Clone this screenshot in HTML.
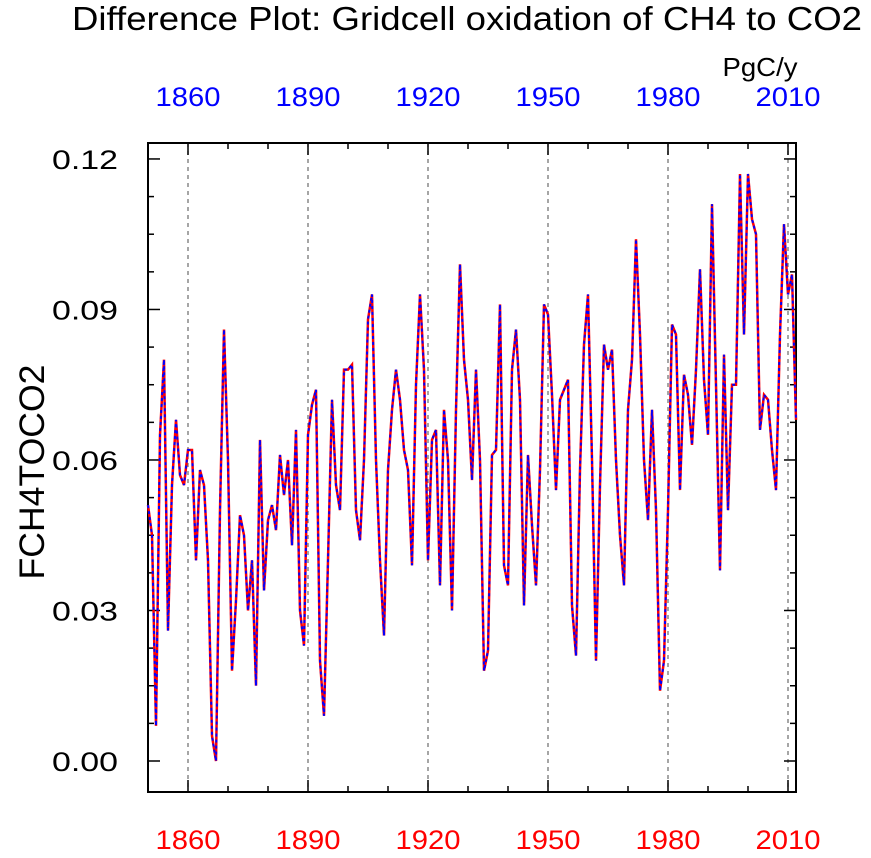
<!DOCTYPE html>
<html><head><meta charset="utf-8"><style>
body{margin:0;background:#fff}
svg text{font-family:"Liberation Sans",Arial,sans-serif}
</style></head><body>
<svg id="chart" width="871" height="853" xmlns="http://www.w3.org/2000/svg">
<text x="467" y="30" font-size="33" text-anchor="middle" textLength="790" lengthAdjust="spacingAndGlyphs">Difference Plot: Gridcell oxidation of CH4 to CO2</text>
<text x="760" y="76" font-size="26" text-anchor="middle" textLength="75" lengthAdjust="spacingAndGlyphs">PgC/y</text>
<text transform="translate(44,472) rotate(-90)" font-size="35" text-anchor="middle" textLength="215" lengthAdjust="spacingAndGlyphs">FCH4TOCO2</text>
<g id="grid"></g><g id="axes"></g><g id="series"></g>
</svg>
<script>
const years=[];for(let y=1850;y<=2012;y++)years.push(y);
const seriesA=[0.051,0.045,0.007,0.065,0.080,0.026,0.055,0.068,0.057,0.055,
0.062,0.062,0.040,0.058,0.055,0.040,0.005,0.000,0.050,0.086,
0.060,0.018,0.032,0.049,0.045,0.030,0.040,0.015,0.064,0.034,
0.048,0.051,0.046,0.061,0.053,0.060,0.043,0.066,0.030,0.023,
0.065,0.071,0.074,0.020,0.009,0.040,0.072,0.055,0.050,0.078,
0.078,0.079,0.050,0.044,0.060,0.088,0.093,0.060,0.040,0.025,
0.058,0.070,0.078,0.072,0.062,0.058,0.039,0.075,0.093,0.078,
0.040,0.064,0.066,0.035,0.070,0.060,0.030,0.070,0.099,0.080,
0.072,0.056,0.078,0.060,0.018,0.022,0.061,0.062,0.091,0.039,
0.035,0.078,0.086,0.072,0.031,0.061,0.047,0.035,0.058,0.091,
0.089,0.073,0.054,0.072,0.074,0.076,0.031,0.021,0.058,0.083,
0.093,0.060,0.020,0.055,0.083,0.078,0.082,0.060,0.045,0.035,
0.070,0.080,0.104,0.085,0.060,0.048,0.070,0.050,0.014,0.020,
0.050,0.087,0.085,0.054,0.077,0.073,0.063,0.078,0.098,0.076,
0.065,0.111,0.075,0.038,0.081,0.050,0.075,0.075,0.117,0.085,
0.117,0.108,0.105,0.066,0.073,0.072,0.062,0.054,0.085,0.107,
0.093,0.097,0.068];
const seriesB=seriesA.slice();
const yTicks=[0,0.03,0.06,0.09,0.12];
const yTickLabels=["0.00","0.03","0.06","0.09","0.12"];
const xTicks=[1860,1890,1920,1950,1980,2010];
const L=148,R=796,T=143,B=792;
const X=v=>L+(v-1850)*(R-L)/162;
const Y=v=>761-v*5017;
const NS="http://www.w3.org/2000/svg";
function mk(tag,attrs,parent,txt){const e=document.createElementNS(NS,tag);for(const k in attrs)e.setAttribute(k,attrs[k]);if(txt!==undefined)e.textContent=txt;document.getElementById(parent).appendChild(e);return e;}
xTicks.forEach(t=>{
 const g=mk('line',{x1:X(t),x2:X(t),y1:T,y2:B,stroke:'#777','stroke-width':1.3,'stroke-dasharray':'4,4'},'grid');
 
 
});
const f=mk('rect',{x:L,y:T,width:R-L,height:B-T,fill:'none',stroke:'#000','stroke-width':2},'axes');


for(let yr=1850;yr<=2012;yr+=10){
 const maj=xTicks.includes(yr);const len=maj?12:6;
 mk('line',{x1:X(yr),x2:X(yr),y1:B,y2:B-len,stroke:'#000','stroke-width':1.5},'axes');
 mk('line',{x1:X(yr),x2:X(yr),y1:T,y2:T+len,stroke:'#000','stroke-width':1.5},'axes');
}
for(let v=0;v<=0.123;v+=0.0075){
 const maj=Math.abs(v/0.03-Math.round(v/0.03))<1e-6;const len=maj?12:6;
 mk('line',{x1:L,x2:L+len,y1:Y(v),y2:Y(v),stroke:'#000','stroke-width':1.5},'axes');
 mk('line',{x1:R,x2:R-len,y1:Y(v),y2:Y(v),stroke:'#000','stroke-width':1.5},'axes');
}
xTicks.forEach(t=>{
 const a=mk('text',{x:X(t),y:849,'font-size':27,fill:'#f00','text-anchor':'middle',textLength:65,lengthAdjust:'spacingAndGlyphs'},'axes',String(t));
 
 
 const b=mk('text',{x:X(t),y:106,'font-size':27,fill:'#00f','text-anchor':'middle',textLength:65,lengthAdjust:'spacingAndGlyphs'},'axes',String(t));
 
 
});
yTicks.forEach((t,i)=>{
 const a=mk('text',{x:118,y:Y(t)+10,'font-size':27,'text-anchor':'end',textLength:66,lengthAdjust:'spacingAndGlyphs'},'axes',yTickLabels[i]);
 
 
});
const ptsA=years.map((y,i)=>X(y)+','+Y(seriesA[i])).join(' ');
const ptsB=years.map((y,i)=>X(y)+','+Y(seriesB[i])).join(' ');
const la=mk('polyline',{points:ptsA,fill:'none',stroke:'#f00','stroke-width':2.5},'series');


const lb=mk('polyline',{points:ptsB,fill:'none',stroke:'#00f','stroke-width':2,'stroke-dasharray':'3,3'},'series');


</script>
</body></html>
